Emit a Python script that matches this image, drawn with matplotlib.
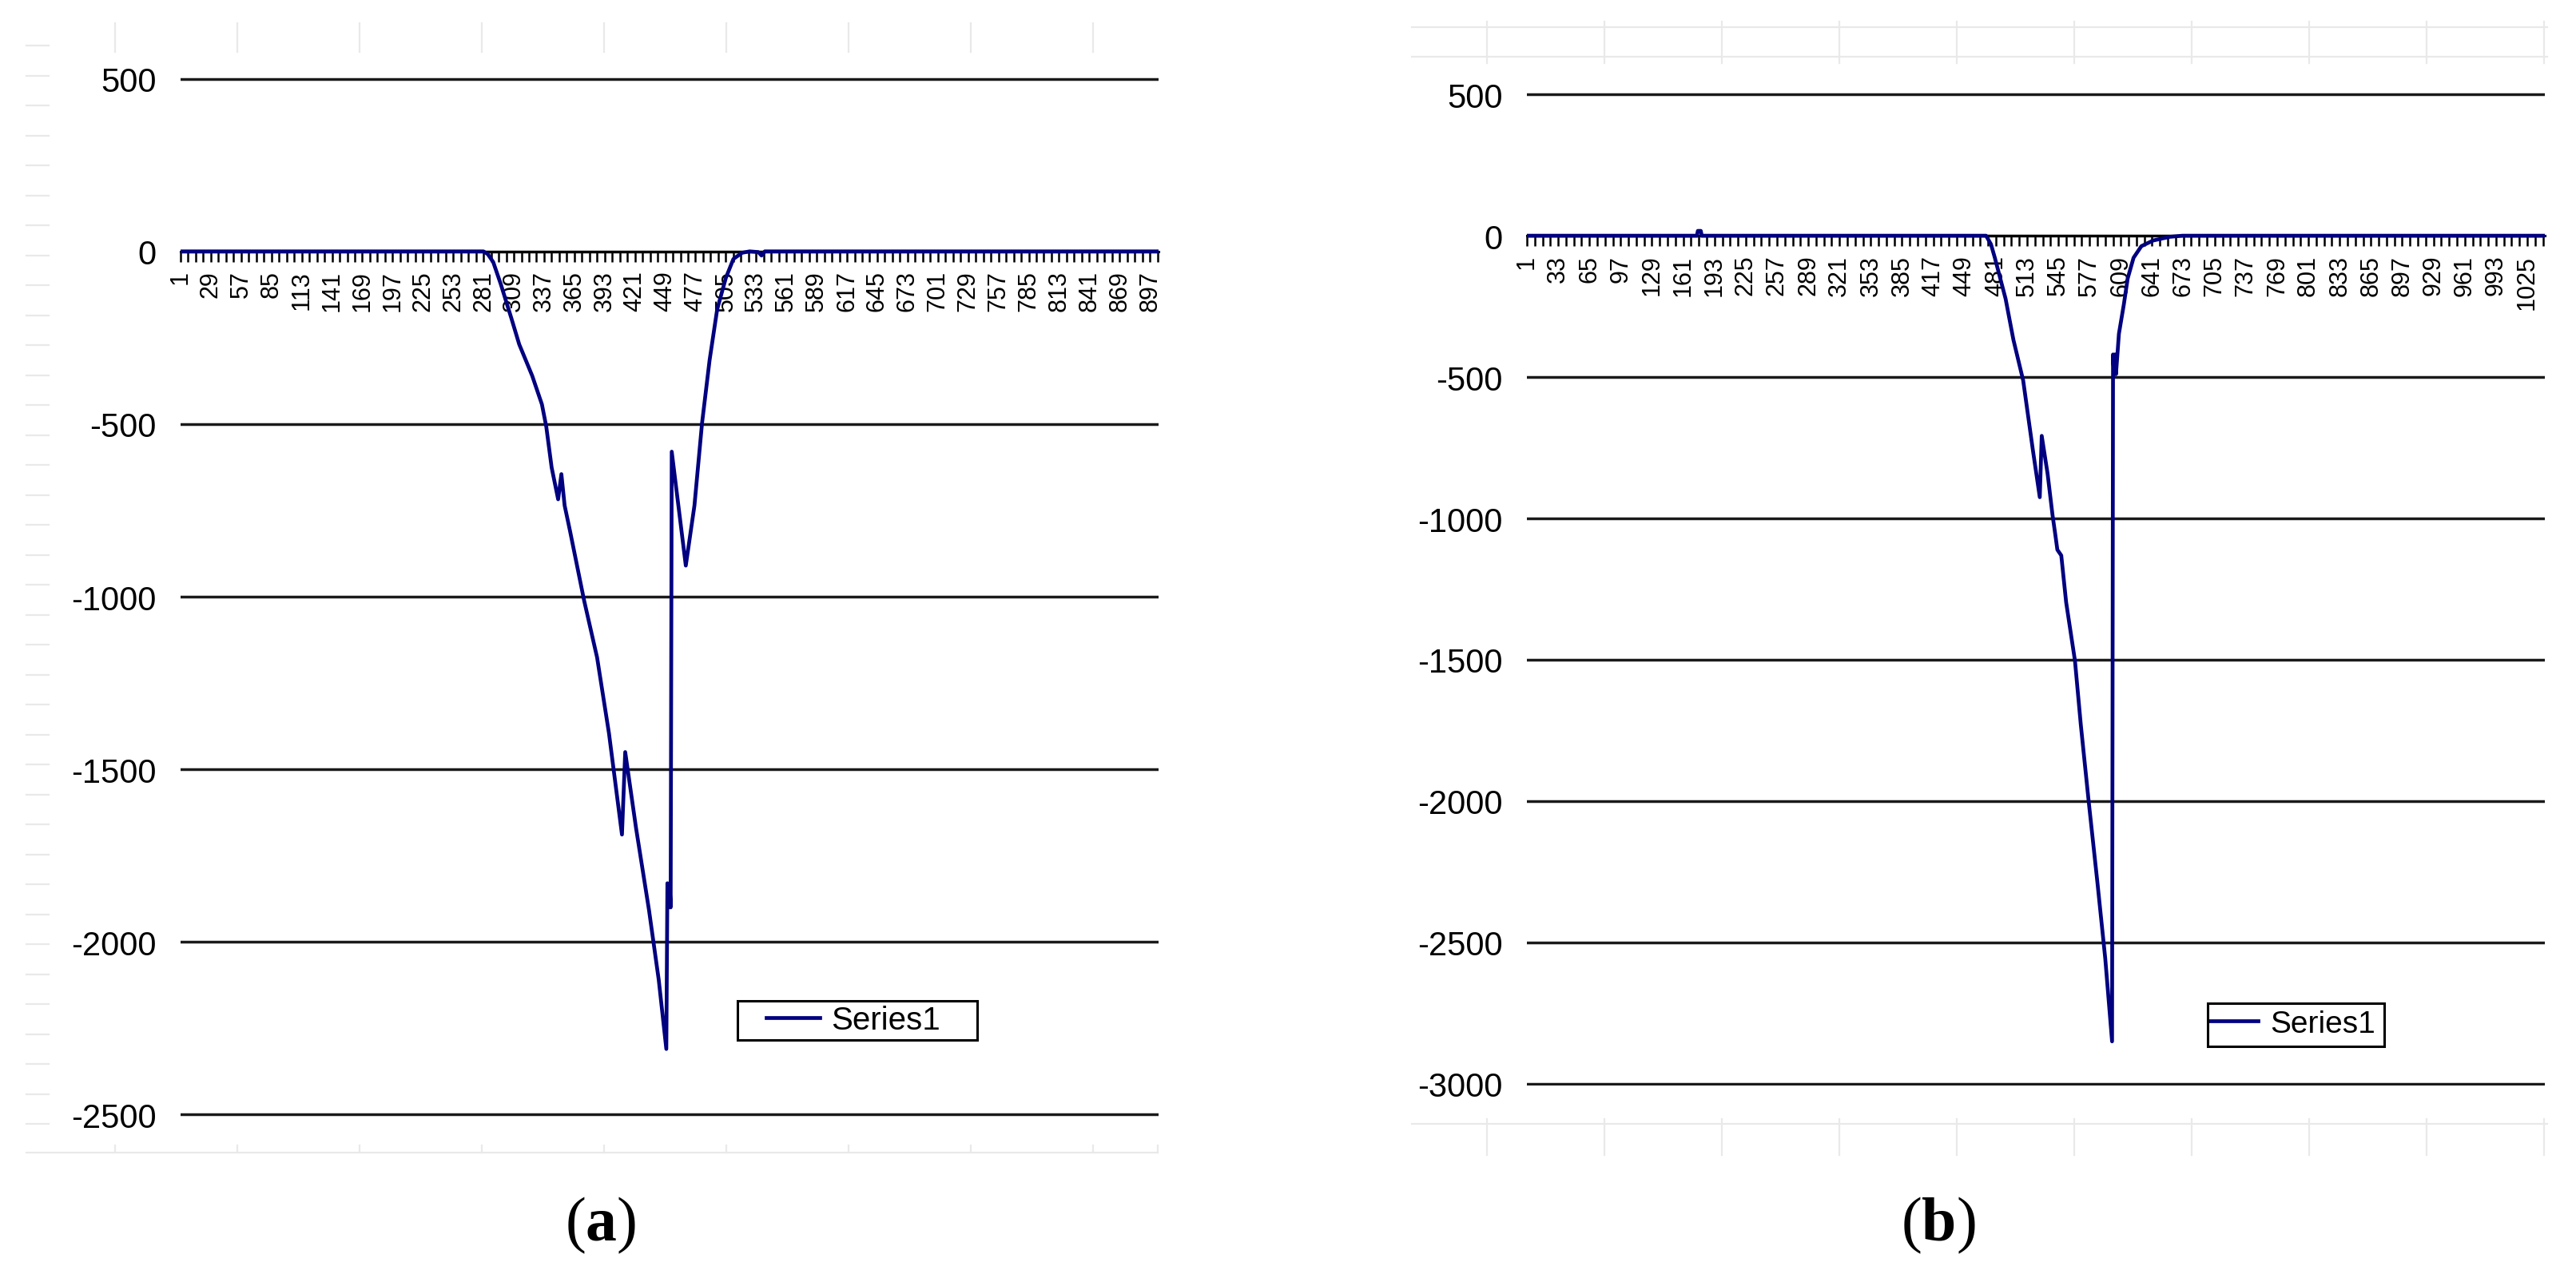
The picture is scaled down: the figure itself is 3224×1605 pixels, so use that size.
import matplotlib
matplotlib.use("Agg")
import numpy as np
import matplotlib.pyplot as plt
from matplotlib.lines import Line2D
from matplotlib.patches import Rectangle
from matplotlib.ticker import FixedLocator

plt.rcParams['font.family'] = ['Liberation Sans', 'DejaVu Sans']
plt.rcParams['mathtext.fontset'] = 'custom'
plt.rcParams['mathtext.rm'] = 'Liberation Serif'
plt.rcParams['mathtext.bf'] = 'Liberation Serif:bold'

# ---------------- data ----------------
# panel (a): category index vs value (breakpoints of the curve)
a_cat = [1, 281, 285, 290, 297, 307, 314, 326, 335, 339,
         344, 350, 353, 356, 361, 374, 386, 397, 409, 412,
         422, 434, 443, 450, 451, 452, 453, 454, 455, 468,
         476, 483, 490, 497, 505, 512, 520, 527, 535, 538,
         541, 905]
a_val = [0, 0, -8, -31, -95, -196, -269, -360, -443, -507,
         -626, -718, -645, -736, -810, -1011, -1176, -1396, -1689, -1450,
         -1670, -1908, -2110, -2310, -1830, -1900, -1830, -1900, -580, -910,
         -736, -498, -315, -168, -77, -22, -4, 0, -2, -12,
         0, 0]
a_xticklabels = [1, 29, 57, 85, 113, 141, 169, 197, 225, 253, 281, 309, 337,
                 365, 393, 421, 449, 477, 505, 533, 561, 589, 617, 645, 673,
                 701, 729, 757, 785, 813, 841, 869, 897]
a_yticks = [500, 0, -500, -1000, -1500, -2000, -2500]

# panel (b)
b_cat = [1, 175, 176, 179, 180, 471, 476, 480, 491, 499,
         509, 514, 519, 526, 528, 534, 539, 542, 544, 548,
         553, 562, 568, 576, 585, 593, 600, 601, 602, 603,
         604, 607, 612, 616, 622, 630, 642, 659, 672, 1043]
b_val = [0, 0, 17, 17, 0, 0, -30, -78, -223, -368,
         -512, -636, -760, -925, -708, -842, -987, -1060, -1111, -1131,
         -1297, -1503, -1730, -1999, -2288, -2556, -2850, -420, -490, -420,
         -490, -347, -244, -151, -78, -37, -17, -4, 0, 0]
b_xticklabels = [1, 33, 65, 97, 129, 161, 193, 225, 257, 289, 321, 353, 385,
                 417, 449, 481, 513, 545, 577, 609, 641, 673, 705, 737, 769,
                 801, 833, 865, 897, 929, 961, 993, 1025]
b_yticks = [500, 0, -500, -1000, -1500, -2000, -2500, -3000]

series_name = "Series1"
panel_labels = ["a", "b"]

# ---------------- figure ----------------
W, H = 3224, 1606
fig = plt.figure(figsize=(W / 100, H / 100), dpi=100)
fig.patch.set_facecolor("white")


def fx(px):
    return px / W


def fy(py):
    return 1 - py / H


NAVY = "#000080"


def style_axes(ax, cats, vals, xlabels, yticks, n_cat, minor_step):
    ax.plot(cats, vals, color=NAVY, lw=3.4, zorder=3, label=series_name)
    ax.set_xlim(1, n_cat)
    ax.set_ylim(min(yticks) - 6, max(yticks) + 6)
    for s in ["top", "right", "left"]:
        ax.spines[s].set_visible(False)
    ax.spines["bottom"].set_position(("data", 0))
    ax.spines["bottom"].set_linewidth(2.2)
    ax.spines["bottom"].set_color("black")
    ax.set_yticks(yticks)
    ax.set_yticklabels([str(v) for v in yticks], fontsize=30)
    ax.tick_params(axis="y", length=0, pad=22)
    ax.yaxis.grid(True, color="#1a1a1a", lw=2.5)
    ax.set_xticks(xlabels)
    ax.set_xticklabels([str(v) for v in xlabels], rotation=90,
                       fontsize=22, va="top", ha="center")
    ax.xaxis.set_minor_locator(FixedLocator(np.arange(1, n_cat, minor_step)))
    ax.tick_params(axis="x", which="both", direction="out", length=9,
                   width=1.8, pad=8, color="black")
    ax.patch.set_visible(False)


axA = fig.add_axes([fx(226), fy(1399), (1450 - 226) / W, (1399 - 97) / H])
style_axes(axA, a_cat, a_val, a_xticklabels, a_yticks, 905, 7)

axB = fig.add_axes([fx(1911), fy(1360), (3185 - 1911) / W, (1360 - 117) / H])
style_axes(axB, b_cat, b_val, b_xticklabels, b_yticks, 1043, 8)

# legends (frame drawn separately to mimic the tight Excel box)
legA = axA.legend(loc="center", bbox_to_anchor=(fx(1068), fy(1278)),
                  bbox_transform=fig.transFigure, frameon=False, fontsize=29,
                  handlelength=1.65, handletextpad=0.35, borderpad=0,
                  borderaxespad=0)
fig.add_artist(Rectangle((fx(923), fy(1303)), (1223 - 923) / W, (1303 - 1254) / H,
                         transform=fig.transFigure, fill=False, ec="black", lw=2.2))

legB = axB.legend(loc="center", bbox_to_anchor=(fx(2869), fy(1283)),
                  bbox_transform=fig.transFigure, frameon=False, fontsize=28,
                  handlelength=1.57, handletextpad=0.4, borderpad=0,
                  borderaxespad=0)
fig.add_artist(Rectangle((fx(2763), fy(1311)), (2984 - 2763) / W, (1311 - 1257) / H,
                         transform=fig.transFigure, fill=False, ec="black", lw=2.2))

# panel labels
fig.text(fx(752), fy(1534), r"($\mathbf{%s}$)" % panel_labels[0],
         family="Liberation Serif", fontsize=56, ha="center", va="center")
fig.text(fx(2426), fy(1534), r"($\mathbf{%s}$)" % panel_labels[1],
         family="Liberation Serif", fontsize=56, ha="center", va="center")

# faint spreadsheet-grid remnants around the charts
FAINT = "#e9e9e9"


def fline(x0, y0, x1, y1):
    fig.add_artist(Line2D([fx(x0), fx(x1)], [fy(y0), fy(y1)],
                          transform=fig.transFigure, color=FAINT, lw=1.6,
                          zorder=0))


for y in np.arange(58, 1410, 37.5):
    fline(33, y, 61, y)
left_cols = [144, 297, 450, 603, 756, 909, 1062, 1215, 1368]
for x in left_cols:
    fline(x, 30, x, 66)
    fline(x, 1435, x, 1444)
fline(1449, 1435, 1449, 1444)
fline(33, 1444, 1449, 1444)

right_cols = [1861 + 147 * k for k in range(10)]
fline(1767, 35, 3188, 35)
fline(1767, 72, 3188, 72)
fline(1767, 1408, 3188, 1408)
for x in right_cols:
    fline(x, 28, x, 80)
    fline(x, 1402, x, 1447)

fig.savefig("out.png", dpi=100, facecolor="white")
